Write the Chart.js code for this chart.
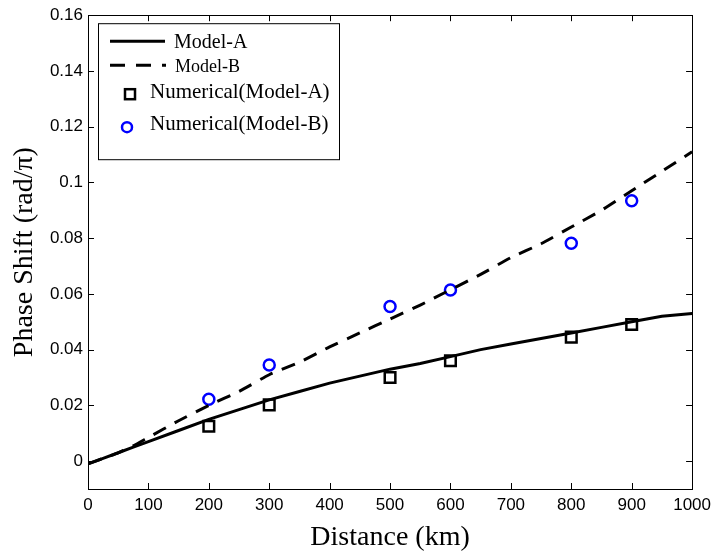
<!DOCTYPE html>
<html>
<head>
<meta charset="utf-8">
<script src="https://cdn.jsdelivr.net/npm/chart.js@4"></script>
<style>
  html, body { margin: 0; padding: 0; background: #fff; }
  #wrap { width: 717px; height: 552px; }
</style>
</head>
<body>
<div id="wrap"><canvas id="phaseChart" width="717" height="552"></canvas></div>
<script>
// distances (km) for the analytic curves
const lineX = [0, 25, 50, 75, 100, 150, 200, 250, 300, 350, 400, 450, 500, 550, 600, 650, 700, 750, 800, 850, 900, 950, 1000];
const modelA = [-0.001, 0.001, 0.003, 0.005, 0.007, 0.011, 0.015, 0.0185, 0.022, 0.025, 0.028, 0.0305, 0.033, 0.035, 0.0375, 0.040, 0.042, 0.044, 0.046, 0.048, 0.050, 0.052, 0.053];
const modelB = [-0.001, 0.001, 0.003, 0.0055, 0.0085, 0.0145, 0.020, 0.025, 0.031, 0.0355, 0.041, 0.046, 0.051, 0.056, 0.0615, 0.067, 0.073, 0.078, 0.084, 0.090, 0.097, 0.104, 0.111];

// numerical results
const numX = [200, 300, 500, 600, 800, 900];
const numA = [0.0125, 0.0202, 0.030, 0.036, 0.0445, 0.049];
const numB = [0.0222, 0.0345, 0.0555, 0.0614, 0.0782, 0.0934];

const xTicks = [0, 100, 200, 300, 400, 500, 600, 700, 800, 900, 1000];
const yTicks = [0, 0.02, 0.04, 0.06, 0.08, 0.1, 0.12, 0.14, 0.16];

const toPoints = (xs, ys) => xs.map((x, i) => ({ x: x, y: ys[i] }));

const serif = '"Liberation Serif", "Times New Roman", serif';

// ticks pointing into the plot on all four sides, plus the box
const frameTicks = {
  id: 'frameTicks',
  afterDatasetsDraw(chart) {
    const { ctx, chartArea: a, scales } = chart;
    ctx.save();
    ctx.strokeStyle = '#000';
    ctx.lineWidth = 1;
    ctx.beginPath();
    xTicks.forEach(v => {
      const px = Math.round(scales.x.getPixelForValue(v)) + 0.5;
      ctx.moveTo(px, a.bottom); ctx.lineTo(px, a.bottom - 6);
      ctx.moveTo(px, a.top); ctx.lineTo(px, a.top + 6);
    });
    yTicks.forEach(v => {
      const py = Math.round(scales.y.getPixelForValue(v)) + 0.5;
      ctx.moveTo(a.left, py); ctx.lineTo(a.left + 6, py);
      ctx.moveTo(a.right, py); ctx.lineTo(a.right - 6, py);
    });
    ctx.stroke();
    ctx.strokeRect(Math.round(a.left) + 0.5, Math.round(a.top) + 0.5, Math.round(a.right - a.left), Math.round(a.bottom - a.top));
    ctx.restore();
  }
};

// boxed legend in the upper-left corner
const boxLegend = {
  id: 'boxLegend',
  afterDraw(chart) {
    const { ctx, chartArea: a } = chart;
    const x0 = a.left + 10, y0 = a.top + 8, w = 241, h = 136;
    ctx.save();
    ctx.fillStyle = '#fff';
    ctx.fillRect(x0, y0, w, h);
    ctx.strokeStyle = '#000';
    ctx.lineWidth = 1;
    ctx.strokeRect(x0 + 0.5, y0 + 0.5, w, h);

    ctx.textBaseline = 'middle';
    ctx.fillStyle = '#000';

    // Model-A
    ctx.lineWidth = 3;
    ctx.beginPath(); ctx.moveTo(x0 + 12, y0 + 18); ctx.lineTo(x0 + 67, y0 + 18); ctx.stroke();
    ctx.font = '20px ' + serif;
    ctx.fillText('Model-A', x0 + 76, y0 + 20);

    // Model-B
    ctx.setLineDash([15, 11]);
    ctx.beginPath(); ctx.moveTo(x0 + 12, y0 + 42); ctx.lineTo(x0 + 68, y0 + 42); ctx.stroke();
    ctx.setLineDash([]);
    ctx.font = '18px ' + serif;
    ctx.fillText('Model-B', x0 + 77, y0 + 44);

    // Numerical(Model-A)
    ctx.font = '21px ' + serif;
    ctx.lineWidth = 2.5;
    ctx.strokeRect(x0 + 27, y0 + 66, 10, 10);
    ctx.fillText('Numerical(Model-A)', x0 + 52, y0 + 69);

    // Numerical(Model-B)
    ctx.strokeStyle = '#0000ff';
    ctx.beginPath(); ctx.arc(x0 + 29, y0 + 104, 5, 0, Math.PI * 2); ctx.stroke();
    ctx.fillText('Numerical(Model-B)', x0 + 52, y0 + 101);
    ctx.restore();
  }
};

new Chart(document.getElementById('phaseChart'), {
  type: 'scatter',
  data: {
    datasets: [
      {
        label: 'Model-A',
        type: 'line',
        data: toPoints(lineX, modelA),
        borderColor: '#000',
        borderWidth: 3,
        pointRadius: 0,
        fill: false,
        tension: 0
      },
      {
        label: 'Model-B',
        type: 'line',
        data: toPoints(lineX, modelB),
        borderColor: '#000',
        borderWidth: 3,
        borderDash: [14, 10],
        pointRadius: 0,
        fill: false,
        tension: 0.2
      },
      {
        label: 'Numerical(Model-A)',
        data: toPoints(numX, numA),
        pointStyle: 'rect',
        pointRadius: 7.5,
        borderColor: '#000',
        backgroundColor: 'rgba(0,0,0,0)',
        pointBorderWidth: 2.5
      },
      {
        label: 'Numerical(Model-B)',
        data: toPoints(numX, numB),
        pointStyle: 'circle',
        pointRadius: 5.5,
        borderColor: '#0000ff',
        backgroundColor: 'rgba(0,0,0,0)',
        pointBorderWidth: 2.5
      }
    ]
  },
  options: {
    responsive: false,
    animation: false,
    layout: { padding: { top: 12, right: 24, left: 0, bottom: 0 } },
    plugins: {
      legend: { display: false },
      tooltip: { enabled: false }
    },
    scales: {
      x: {
        type: 'linear',
        min: 0,
        max: 1000,
        afterBuildTicks: s => { s.ticks = xTicks.map(v => ({ value: v })); },
        afterFit: s => { s.height = 63; },
        grid: { display: false, drawTicks: false, tickLength: 0 },
        border: { display: false },
        ticks: {
          color: '#000',
          padding: 6,
          maxRotation: 0,
          font: { family: '"Liberation Sans", Arial, sans-serif', size: 17 },
          callback: v => String(v)
        },
        title: {
          display: true,
          text: 'Distance (km)',
          color: '#000',
          padding: { top: 0, bottom: 0 },
          font: { family: serif, size: 28, lineHeight: 1.0 }
        }
      },
      y: {
        type: 'linear',
        min: -0.01,
        max: 0.16,
        afterBuildTicks: s => { s.ticks = yTicks.map(v => ({ value: v })); },
        afterFit: s => { s.width = 88; },
        grid: { display: false, drawTicks: false, tickLength: 0 },
        border: { display: false },
        ticks: {
          color: '#000',
          padding: 5,
          font: { family: '"Liberation Sans", Arial, sans-serif', size: 17 },
          callback: v => String(Math.round(v * 100) / 100)
        },
        title: {
          display: true,
          text: 'Phase Shift (rad/π)',
          color: '#000',
          padding: { top: 8, bottom: 0 },
          font: { family: serif, size: 28 }
        }
      }
    }
  },
  plugins: [frameTicks, boxLegend]
});
</script>
</body>
</html>
